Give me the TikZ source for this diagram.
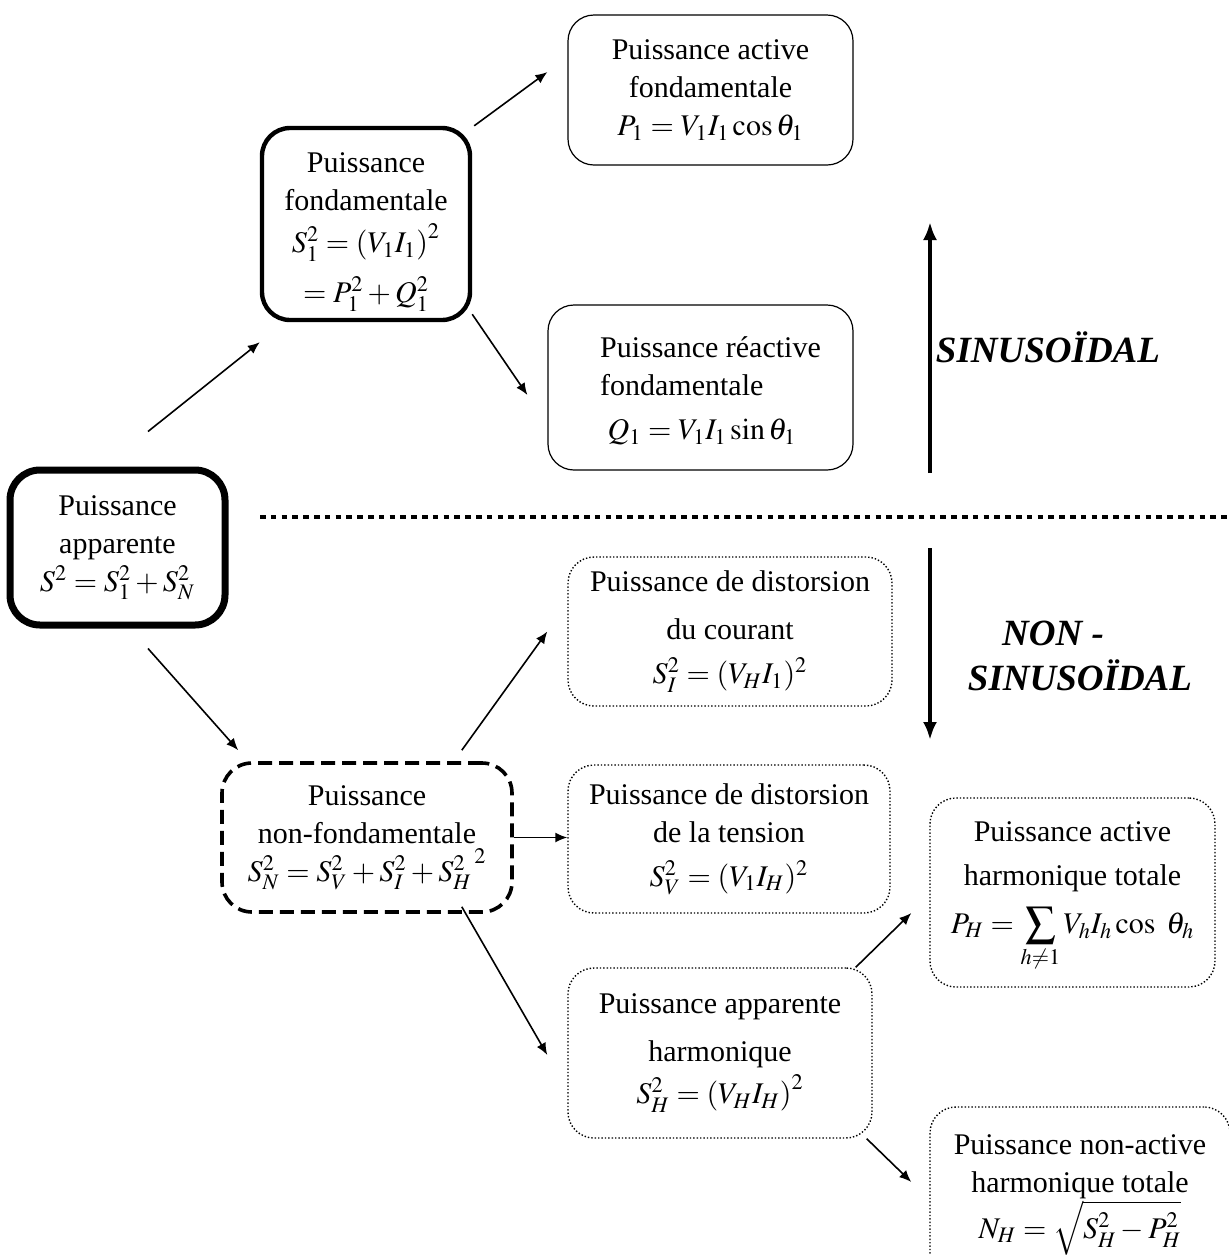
\documentclass[tikz,border=0pt]{standalone}
\usepackage{mathptmx}
\usepackage{fontspec}
\setmainfont{Liberation Serif}
\usetikzlibrary{arrows.meta,calc}
\begin{document}
\begin{tikzpicture}[x=0.5pt,y=-0.5pt,
  every node/.style={font=\fontsize{15}{19}\selectfont, align=center, inner sep=0pt},
  thickbox/.style={draw, line width=3.5pt, rounded corners=15pt},
  medbox/.style={draw, line width=2.2pt, rounded corners=14pt},
  solidbox/.style={draw, line width=0.6pt, rounded corners=13pt},
  dotbox/.style={draw, line width=0.7pt, densely dotted, rounded corners=13pt},
  dashbox/.style={draw, line width=1.8pt, dash pattern=on 7pt off 3.5pt, rounded corners=15pt},
  arr/.style={-{Latex[length=6pt,width=5pt]}, line width=0.8pt},
  bigarr/.style={-{Latex[length=9pt,width=7pt]}, line width=1.8pt},
  lab/.style={font=\fontsize{18.5}{22}\selectfont\bfseries\itshape}
]
\useasboundingbox (0,0) rectangle (1229,1255);
\clip (0,0) rectangle (1229,1255);

% boxes
\node[thickbox, minimum width=107.5pt, minimum height=77.5pt] (app) at (117.5,547.5)
  {Puissance\\apparente\\$S^2 = S_1^2 + S_N^2$};
\node[medbox, minimum width=104pt, minimum height=96pt] (fond) at (366,224)
  {\rule{0pt}{18pt}Puissance\\fondamentale\\[2pt]$S_1^2 = \left(V_1 I_1\right)^2$\\[6pt]$= P_1^2 + Q_1^2$};
\node[solidbox, minimum width=142.5pt, minimum height=75pt] (P1) at (710.5,90)
  {Puissance active\\fondamentale\\$P_1 = V_1 I_1 \cos\theta_1$};
\node[solidbox, minimum width=152.5pt, minimum height=82.5pt, align=left] (Q1) at (700.5,387.5)
  {\rule{0pt}{14pt}\hspace*{10pt}Puissance r\'eactive\\\hspace*{10pt}fondamentale\\[3pt]\hspace*{10pt}\ $Q_1 = V_1 I_1 \sin\theta_1$};
\node[dashbox, minimum width=145pt, minimum height=74.5pt] (nonf) at (367,837.5)
  {Puissance\\non-fondamentale\\$S_N^2 = S_V^2 + S_I^2 + {S_H^2}^{\,2}$};
\node[dotbox, minimum width=162pt, minimum height=74.5pt] (SI) at (730,631.5)
  {Puissance de distorsion\\[5pt]du courant\\[3pt]$S_I^2 = (V_H I_1)^2$};
\node[dotbox, minimum width=161pt, minimum height=74pt] (SV) at (729,839)
  {Puissance de distorsion\\de la tension\\[3pt]$S_V^2 = (V_1 I_H)^2$};
\node[dotbox, minimum width=152pt, minimum height=85pt] (SH) at (720,1053)
  {Puissance apparente\\[5pt]harmonique\\[2pt]$S_H^2 = \left(V_H I_H\right)^2$};
\node[dotbox, minimum width=142.5pt, minimum height=94.5pt] (PH) at (1072.5,892.5)
  {\rule{0pt}{14pt}Puissance active\\[3pt]harmonique totale\\[5pt]$\displaystyle P_H = \sum_{h\neq 1} V_h I_h \cos\ \theta_h$};
\node[dotbox, minimum width=150pt, minimum height=88pt] (NH) at (1080,1195)
  {Puissance non-active\\harmonique totale\\$N_H = \sqrt{S_H^2 - P_H^2}$};

% connectors
\draw[arr] ($(app.north)+(30.5,-35)$) -- ($(fond.south west)+(0,20)$);
\draw[arr] ($(fond.north east)+(2,0)$) -- ($(P1.west)+(-20,-18)$);
\draw[arr] ($(fond.south east)+(0,-8)$) -- ($(Q1.west)+(-20,7.5)$);
\draw[arr] ($(app.south)+(30.5,20)$) -- ($(nonf.north west)+(18,-11)$);
\draw[arr] ($(nonf.north east)+(-52,-11)$) -- ($(SI.west)+(-20,0)$);
\draw[arr] (nonf.east) -- (nonf.east -| SV.west);
\draw[arr] ($(nonf.south east)+(-52,-7)$) -- ($(SH.west)+(-20,2)$);
\draw[arr] ($(SH.north east)+(-17,0)$) -- ($(PH.west)+(-18,20.5)$);
\draw[arr] ($(SH.south east)+(-6,0)$) -- ($(NH.west)+(-18,-13)$);

% separator and regime arrows
\coordinate (dl) at (260,517);
\coordinate (dr) at (1229,517);
\draw[line width=2.2pt, dash pattern=on 2.8pt off 2.6pt] (dl) -- (dr);
\coordinate (ub) at (930,473);
\coordinate (ut) at (930,222);
\coordinate (db) at (930,548);
\coordinate (dt) at (930,740);
\draw[bigarr] (ub) -- (ut);
\draw[bigarr] (db) -- (dt);
\node[lab] (sin) at (1048,347) {SINUSOÏDAL};
\node[lab] (non) at (1053,633) {NON -};
\node[lab] (sin2) at (1080,675) {SINUSOÏDAL};
\end{tikzpicture}
\end{document}
